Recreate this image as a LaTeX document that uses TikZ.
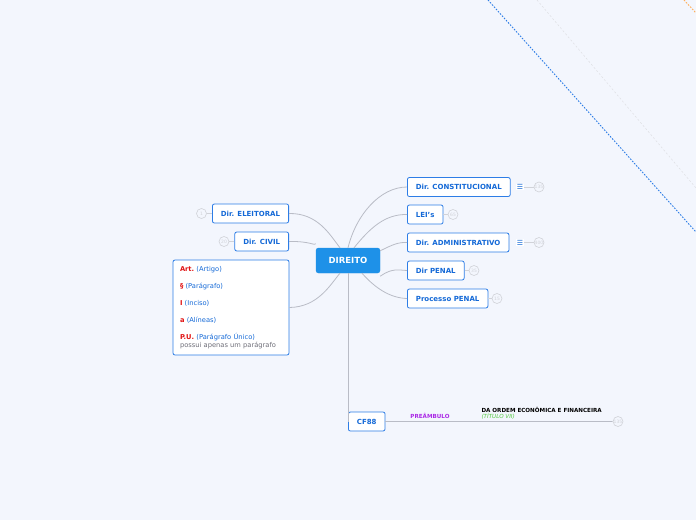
\documentclass[tikz,border=0pt]{standalone}
\usepackage{fontspec}
\setmainfont{DejaVu Sans}
\usepackage{xcolor}
\usepackage{tikz}
\definecolor{mapbg}{RGB}{243,246,253}
\definecolor{topicline}{RGB}{45,125,230}
\definecolor{topictext}{RGB}{20,105,215}
\definecolor{rootfill}{RGB}{30,145,232}
\definecolor{edgegrey}{RGB}{185,188,198}
\definecolor{badgegrey}{RGB}{208,210,216}
\definecolor{lawred}{RGB}{225,20,20}
\definecolor{notegrey}{RGB}{110,110,120}
\definecolor{preamblepurple}{RGB}{170,40,230}
\definecolor{titlegreen}{RGB}{80,200,60}
\definecolor{frameorange}{RGB}{255,175,90}
\tikzset{
  topic box/.style={draw=topicline, fill=white, rounded corners=2pt, line width=0.8pt, text=topictext,
    font=\fontsize{7}{8}\selectfont\bfseries, inner xsep=8.5pt, inner ysep=0pt, minimum height=19pt},
  root box/.style={draw=rootfill, fill=rootfill, rounded corners=2.5pt, text=white,
    font=\fontsize{8.5}{9}\selectfont\bfseries, minimum width=64pt, minimum height=25pt},
  count badge/.style={circle, draw=badgegrey, fill=mapbg, text=badgegrey, inner sep=0pt,
    minimum size=10pt, line width=0.6pt, font=\fontsize{4.5}{5}\selectfont},
  note icon/.style={fill=white, text=topictext, inner sep=0.5pt, font=\fontsize{7}{7}\selectfont},
  branch edge/.style={draw=edgegrey, line width=0.8pt},
  badge edge/.style={draw=badgegrey, line width=1pt}
}

\begin{document}
\begin{tikzpicture}[x=1pt, y=-1pt]
  \fill[mapbg] (0,0) rectangle (696,520);
  \useasboundingbox (0,0) rectangle (696,520);
  % frame lines in the corner
  \draw[topicline, line width=0.9pt, dash pattern=on 1.6pt off 1.4pt] (488,0) -- (696,232);
  \draw[badgegrey!70, line width=0.5pt, dash pattern=on 2pt off 2pt] (537,0) -- (696,188);
  \draw[frameorange, line width=0.9pt, dash pattern=on 1.6pt off 1.4pt] (684,0) -- (696,13);

  % central topic
  \node[root box] (root) at (348,260.5) {DIREITO};

  % right branches
  \node[topic box, anchor=west] (const) at (407,187) {Dir. CONSTITUCIONAL};
  \node[topic box, anchor=west] (leis) at (407,214.5) {LEI's};
  \node[topic box, anchor=west] (admin) at (407,242.5) {Dir. ADMINISTRATIVO};
  \node[topic box, anchor=west] (penal) at (407,270.5) {Dir PENAL};
  \node[topic box, anchor=west] (procpenal) at (407,298.5) {Processo PENAL};

  % left branches
  \node[topic box, anchor=east] (eleitoral) at (289,213.5) {Dir. ELEITORAL};
  \node[topic box, anchor=east] (civil) at (289,241.5) {Dir. CIVIL};
  \node[draw=topicline, fill=white, rounded corners=2pt, line width=0.8pt, text width=102pt,
    minimum height=95pt, minimum width=116pt, inner xsep=7pt, align=left,
    font=\fontsize{6.7}{8}\selectfont] (legend) at (231,307.5) {%
    {\color{lawred}\bfseries Art.}\ {\color{topictext}(Artigo)}\\[9pt]
    {\color{lawred}\bfseries §} {\color{topictext}(Parágrafo)}\\[9pt]
    {\color{lawred}\bfseries I} {\color{topictext}(Inciso)}\\[9pt]
    {\color{lawred}\bfseries a} {\color{topictext}(Alíneas)}\\[9pt]
    {\color{lawred}\bfseries P.U.}\ {\color{topictext}(Parágrafo Único)}\\
    {\color{notegrey}possui apenas um parágrafo}};

  % bottom branch
  \node[topic box, anchor=west] (cf) at (348,421.5) {CF88};

  % connectors
  \draw[branch edge] (root.north) .. controls (356,215) and (380,187) .. (const.west);
  \draw[branch edge] ([xshift=6pt]root.north) .. controls (370,228) and (385,214) .. (leis.west);
  \draw[branch edge] ([yshift=-3pt]root.north east) .. controls (392,245) and (398,242) .. (admin.west);
  \draw[branch edge] ([yshift=-3pt]root.south east) .. controls (392,268) and (398,270) .. (penal.west);
  \draw[branch edge] ([xshift=14pt]root.south) .. controls (375,288) and (390,298) .. (procpenal.west);
  \draw[branch edge] (eleitoral.east) .. controls (318,213) and (330,235) .. ([xshift=-8pt]root.north);
  \draw[branch edge] (civil.east) .. controls (310,241) and (315,246) .. ([yshift=4pt]root.north west);
  \draw[branch edge] (legend.east) .. controls (318,307) and (330,285) .. ([xshift=-8pt]root.south);
  \draw[branch edge] (root.south) -- (cf.west);
  \draw[branch edge] (cf.east) -- (612,421.5) coordinate (cfend);

  % labels on the CF88 line
  \node[text=preamblepurple, font=\fontsize{5.6}{6}\selectfont\bfseries] (preambulo) at (430,416) {PREÂMBULO};
  \node[font=\fontsize{5.6}{6}\selectfont\bfseries, anchor=west] (ordem) at (478,409.5) {DA ORDEM ECONÔMICA E FINANCEIRA};
  \node[text=titlegreen, font=\fontsize{5.6}{6}\selectfont\itshape, anchor=west] (titulo) at (478,416) {(TÍTULO VII)};

  % notes and counters
  \node[note icon] (constnote) at (520,187) {☰};
  \node[note icon] (adminnote) at (520,242.5) {☰};
  \node[count badge] (constcount) at (539,187) {135};
  \node[count badge] (leiscount) at (453,214.5) {65};
  \node[count badge] (admincount) at (539,242.5) {400};
  \node[count badge] (penalcount) at (474,270.5) {35};
  \node[count badge] (proccount) at (497,298.5) {15};
  \node[count badge] (eleitoralcount) at (201.5,213.5) {1};
  \node[count badge] (civilcount) at (224,241.5) {20};
  \node[count badge] (cfcount) at (618,421.5) {135};
  \draw[badge edge] (constnote) -- (constcount);
  \draw[badge edge] (adminnote) -- (admincount);
  \draw[badge edge] (leis) -- (leiscount);
  \draw[badge edge] (penal) -- (penalcount);
  \draw[badge edge] (procpenal) -- (proccount);
  \draw[badge edge] (eleitoral) -- (eleitoralcount);
  \draw[badge edge] (civil) -- (civilcount);
  \draw[badge edge] (cfend) -- (cfcount);
\end{tikzpicture}
\end{document}
